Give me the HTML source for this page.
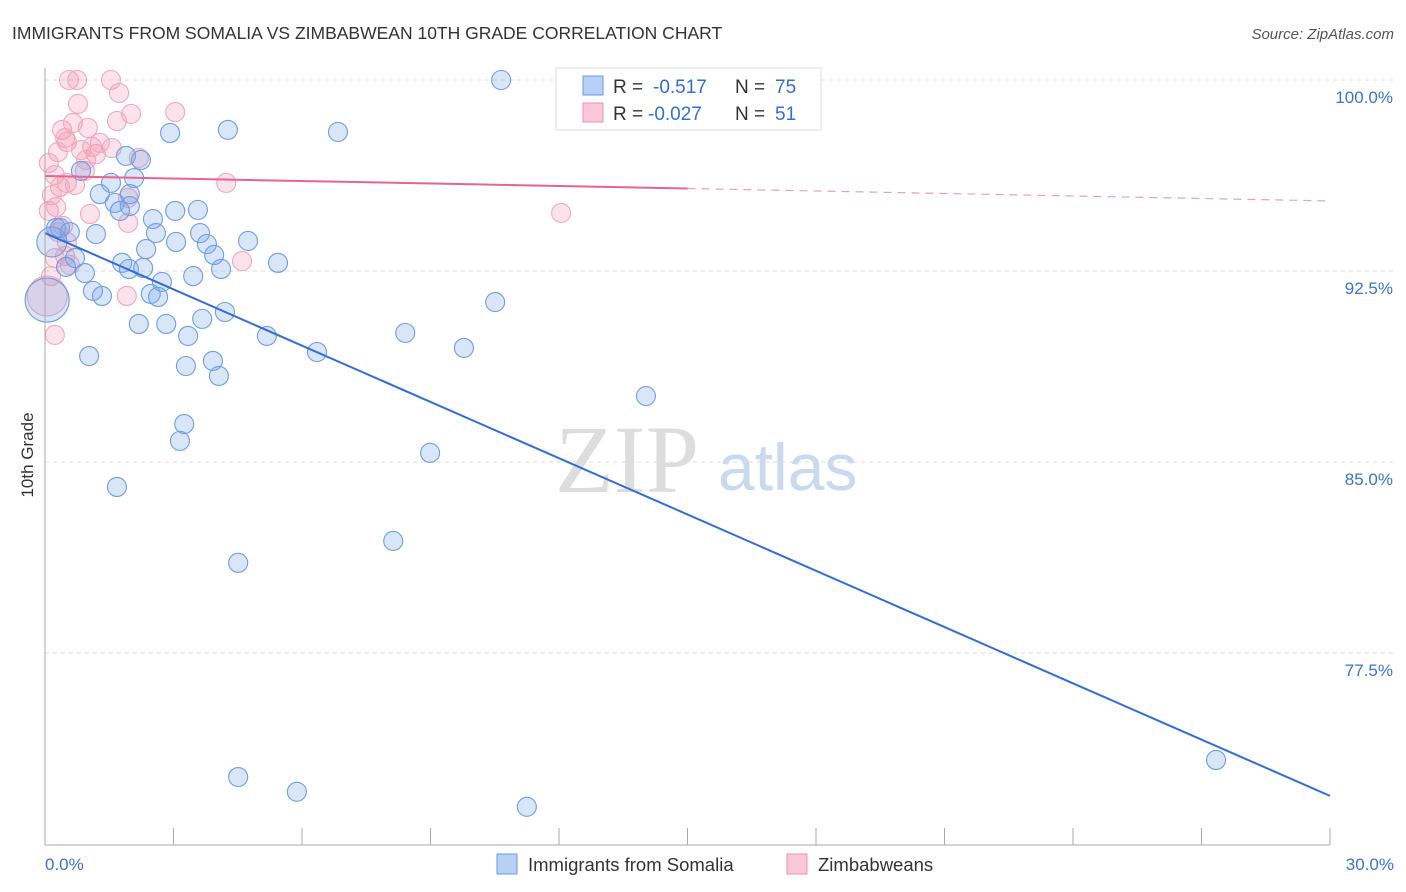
<!DOCTYPE html>
<html><head><meta charset="utf-8"><style>
body{margin:0;background:#fff;font-family:"Liberation Sans",sans-serif}
svg{display:block}
</style></head><body>
<svg id="c" width="1406" height="892">
<text x="12" y="39" font-size="17.5" fill="#333">IMMIGRANTS FROM SOMALIA VS ZIMBABWEAN 10TH GRADE CORRELATION CHART</text>
<text x="1394" y="39" font-size="15" fill="#555" font-style="italic" text-anchor="end">Source: ZipAtlas.com</text>
<text x="555" y="492" font-size="96" fill="#ddd" font-family="Liberation Serif,serif">ZIP</text>
<text x="718" y="490" font-size="66" fill="#c9d9f0">atlas</text>
<text transform="translate(33,455) rotate(-90)" font-size="17" fill="#333" text-anchor="middle">10th Grade</text>
<g id="grid"></g><g id="ticks"></g><g id="pts"></g><g id="lines"></g>
<line x1="45" y1="68" x2="45" y2="845" stroke="#aaa"/>
<line x1="45" y1="845" x2="1330" y2="845" stroke="#aaa"/>
<text x="45" y="870" font-size="17" fill="#3a74d0">0.0%</text>
<text x="1394" y="870" font-size="17" fill="#3a74d0" text-anchor="end">30.0%</text>
<g>
<rect x="556" y="68" width="265" height="62" fill="#fff" stroke="#ddd"/>
<rect x="583" y="76" width="20" height="19" fill="#b8d0f3" stroke="#6a9ae0"/>
<rect x="583" y="103" width="20" height="19" fill="#fbc6d6" stroke="#ef93b0"/>
<text x="613" y="93" font-size="19" fill="#333">R = <tspan x="653" fill="#2f6fd6">-0.517</tspan><tspan x="735">N = </tspan><tspan x="775" fill="#2f6fd6">75</tspan></text>
<text x="613" y="120" font-size="19" fill="#333">R = <tspan x="648" fill="#2f6fd6">-0.027</tspan><tspan x="735">N = </tspan><tspan x="775" fill="#2f6fd6">51</tspan></text>
</g>
<g>
<rect x="497" y="854" width="20" height="20" fill="#b8d0f3" stroke="#6a9ae0"/>
<text x="528" y="871" font-size="18.5" fill="#333">Immigrants from Somalia</text>
<rect x="787" y="854" width="20" height="20" fill="#fbc6d6" stroke="#ef93b0"/>
<text x="818" y="871" font-size="18.5" fill="#333">Zimbabweans</text>
</g>
</svg>
<script>
const yTicks=[100,92.5,85,77.5];
const yTickLabels=["100.0%","92.5%","85.0%","77.5%"];
const xTicks=[0,3,6,9,12,15,18,21,24,27,30];
const somaliaX=[10.65,2.92,4.27,6.84,1.89,2.24,0.84,2.08,1.54,1.28,1.98,1.63,1.98,1.75,3.04,3.57,2.52,0.26,0.58,1.19,2.59,3.62,3.06,3.78,4.74,2.36,3.95,0.70,0.49,1.80,1.96,2.29,5.44,4.11,0.93,3.46,2.73,1.12,1.33,2.47,2.64,4.20,3.67,2.19,2.83,8.41,5.18,3.34,6.35,9.78,10.51,3.92,1.03,3.29,4.06,14.03,3.25,3.15,8.99,1.68,8.13,4.51,4.51,5.88,11.25,27.34,0.35,0.16,0.05];
const somaliaY=[100,97.92,98.04,97.96,97.02,96.86,96.43,96.15,95.96,95.52,95.52,95.17,95.05,94.86,94.86,94.90,94.54,94.19,94.03,93.95,93.99,93.99,93.64,93.56,93.68,93.36,93.13,93.01,92.66,92.82,92.58,92.62,92.82,92.58,92.42,92.30,92.07,91.72,91.52,91.60,91.48,90.89,90.62,90.42,90.42,90.07,89.95,89.95,89.32,89.48,91.28,88.97,89.16,88.77,88.38,87.59,86.49,85.83,85.36,84.02,81.90,81.04,72.63,72.05,71.46,73.30,94.19,93.64,91.36];
const somaliaR=[9.5,9.5,9.5,9.5,9.5,9.5,9.5,9.5,9.5,9.5,9.5,9.5,9.5,9.5,9.5,9.5,9.5,9.5,9.5,9.5,9.5,9.5,9.5,9.5,9.5,9.5,9.5,9.5,9.5,9.5,9.5,9.5,9.5,9.5,9.5,9.5,9.5,9.5,9.5,9.5,9.5,9.5,9.5,9.5,9.5,9.5,9.5,9.5,9.5,9.5,9.5,9.5,9.5,9.5,9.5,9.5,9.5,9.5,9.5,9.5,9.5,9.5,9.5,9.5,9.5,9.5,9.5,15,22];
const zimX=[0.56,0.75,1.54,1.73,0.77,3.04,2.01,1.68,0.40,1.00,0.65,0.47,0.51,1.56,0.84,0.30,1.19,2.19,0.09,0.93,0.23,0.51,0.70,4.23,0.35,0.16,0.26,1.05,1.94,12.05,0.09,0.42,0.51,0.47,0.58,0.23,4.60,0.14,1.91,0.23,0.05,1.28,0.96,1.10,0.30,1.94];
const zimY=[100,100,100,99.49,99.06,98.74,98.67,98.39,98.04,98.12,98.31,97.72,97.57,97.33,97.25,97.17,97.09,96.94,96.74,96.43,96.27,95.96,95.88,95.96,95.80,95.48,95.01,94.74,94.39,94.78,94.86,94.27,93.64,93.09,92.74,93.01,92.89,92.30,91.52,89.99,91.52,97.53,96.86,97.37,94.03,95.37];
const somaliaTrend=[93.99,71.89];
const zimTrend=[96.23,95.25];
const NS="http://www.w3.org/2000/svg";
const X=v=>45+v*42.833, Y=v=>80+(100-v)*25.467;
function mk(p,tag,a){const e=document.createElementNS(NS,tag);for(const k in a)e.setAttribute(k,a[k]);p.appendChild(e);return e;}
const grid=document.getElementById('grid'),ticks=document.getElementById('ticks'),pts=document.getElementById('pts'),lines=document.getElementById('lines');
yTicks.forEach((t,i)=>{
 const l=mk(grid,'line',{x1:45,x2:1393,y1:Y(t),y2:Y(t),stroke:'#ddd','stroke-dasharray':'4,4'});
 
 
 const tx=mk(grid,'text',{x:1393,y:Y(t)+23,'font-size':17,fill:'#3a74d0','text-anchor':'end'});
 tx.textContent=yTickLabels[i];
 
 
});
xTicks.forEach(t=>{
 const l=mk(ticks,'line',{x1:X(t),x2:X(t),y1:828,y2:845,stroke:'#aaa'});
 
 
});
zimX.forEach((v,i)=>{
 const c=mk(pts,'circle',{cx:X(v),cy:Y(zimY[i]),r:i==40?20:9.5,fill:'rgba(244,150,180,0.28)',stroke:'#f0a8bf','stroke-width':1.1});
 
 
});
somaliaX.forEach((v,i)=>{
 const c=mk(pts,'circle',{cx:X(v),cy:Y(somaliaY[i]),r:somaliaR[i],fill:'rgba(120,165,230,0.28)',stroke:'#6f9de0','stroke-width':1.1});
 
 
});
let l=mk(lines,'line',{x1:X(0),y1:Y(somaliaTrend[0]),x2:X(30),y2:Y(somaliaTrend[1]),stroke:'#2f6fd6','stroke-width':2});


const zm=(zimTrend[0]+zimTrend[1])/2;
l=mk(lines,'line',{x1:X(0),y1:Y(zimTrend[0]),x2:X(15),y2:Y(zm),stroke:'#e8648f','stroke-width':2});


l=mk(lines,'line',{x1:X(15),y1:Y(zm),x2:X(30),y2:Y(zimTrend[1]),stroke:'#e8a0b8','stroke-width':1.2,'stroke-dasharray':'8,6'});


</script>
</body></html>
